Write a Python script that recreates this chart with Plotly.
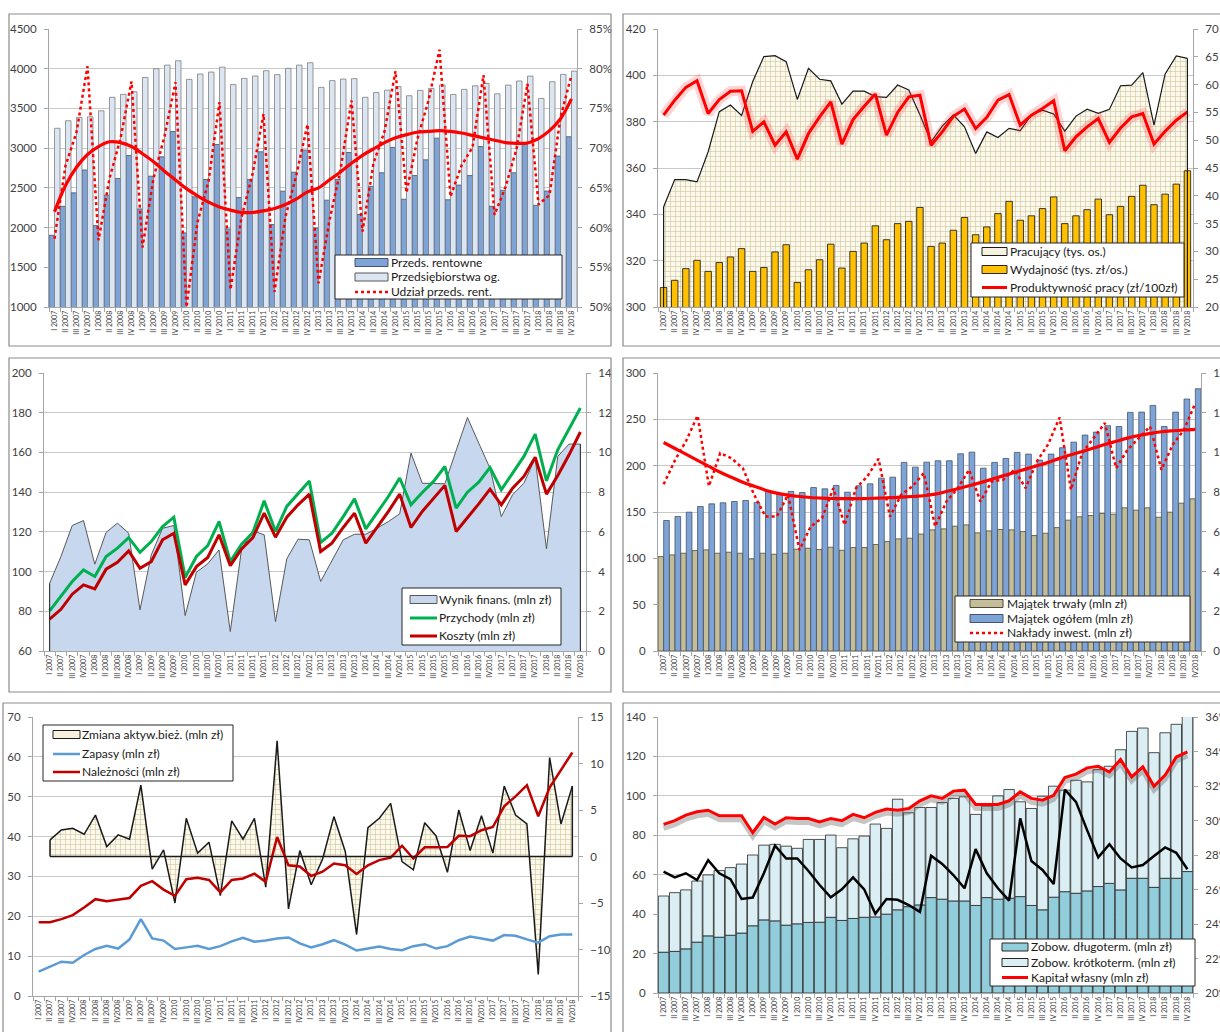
import plotly.graph_objects as go

W, H = 1220, 1032
FONT = "Lato, 'Liberation Sans', Arial, sans-serif"
TXT = "#404040"
AX = "#A6A6A6"
GRID = "#C9C9C9"

# quarter labels
KW = [f"{q} {r}" for r in range(2007, 2019) for q in ("I", "II", "III", "IV")]
KW_B = [f"{q}{'' if q == 'IV' else ' '}{r}" for r in range(2007, 2019) for q in ("I", "II", "III", "IV")]

# --- panel 1: enterprises
przeds_rentowne = [1903, 2268, 2437, 2725, 2025, 2408, 2618, 2908, 2235, 2647, 2891, 3210,
                   1933, 2387, 2605, 3046, 1983, 2378, 2605, 2954, 2038, 2458, 2697, 2975,
                   1995, 2345, 2605, 2945, 2165, 2520, 2690, 3010, 2357, 2655, 2853, 3126,
                   2350, 2535, 2655, 3020, 2268, 2470, 2690, 3050, 2280, 2460, 2900, 3143]
przeds_ogolem = [3250, 3345, 3387, 3395, 3470, 3640, 3677, 3710, 3890, 4000, 4045, 4100,
                 3866, 3933, 3958, 4020, 3800, 3878, 3908, 3975, 3925, 4005, 4045, 4075,
                 3765, 3850, 3870, 3875, 3640, 3700, 3730, 3775, 3660, 3727, 3752, 3795,
                 3676, 3740, 3785, 3814, 3684, 3794, 3845, 3907, 3626, 3836, 3929, 3970]
udzial_rent = [58.6, 67.8, 72.0, 80.3, 58.4, 66.2, 71.2, 78.4, 57.5, 66.2, 71.5, 78.3,
               50.0, 60.7, 65.8, 75.8, 52.2, 61.3, 66.7, 74.3, 51.9, 61.4, 66.7, 73.0,
               53.0, 60.9, 67.3, 76.0, 59.5, 68.1, 72.1, 79.7, 64.4, 71.2, 76.0, 82.4,
               63.9, 67.8, 70.1, 79.2, 61.6, 65.1, 69.9, 78.1, 62.9, 64.1, 73.9, 79.2]
udzial_trend = [62.0, 65.3, 67.6, 69.2, 70.2, 70.8, 70.7, 70.2, 69.3, 68.3, 67.1, 66.0,
                64.9, 64.0, 63.2, 62.6, 62.2, 61.9, 61.9, 62.1, 62.4, 62.9, 63.6, 64.5,
                65.0, 66.0, 67.0, 68.1, 69.1, 69.9, 70.7, 71.3, 71.7, 72.0, 72.1, 72.2,
                72.1, 71.9, 71.6, 71.3, 71.0, 70.7, 70.6, 70.65, 71.2, 72.2, 73.7, 76.2]

# --- panel 2: employment and productivity
pracujacy = [343.2, 355.0, 355.0, 354.0, 367.0, 384.3, 387.2, 382.7, 397.3, 408.1, 408.5, 405.9,
             389.6, 403.0, 398.3, 397.6, 387.6, 393.2, 393.2, 390.8, 390.5, 395.8, 393.7, 383.0,
             371.3, 378.1, 382.9, 377.8, 366.3, 375.6, 373.2, 377.1, 376.1, 382.9, 385.0, 383.3,
             375.9, 382.4, 385.4, 383.6, 385.3, 395.5, 395.8, 401.2, 378.5, 400.6, 408.4, 407.3]
wydajnosc = [23.5, 24.8, 26.9, 28.4, 26.4, 28.0, 29.0, 30.5, 26.4, 27.1, 29.9, 31.2,
             24.4, 26.7, 28.5, 31.3, 27.0, 30.0, 31.5, 34.6, 32.1, 35.0, 35.4, 37.9,
             30.9, 31.5, 33.8, 36.1, 33.0, 34.4, 36.8, 39.0, 35.6, 36.4, 37.7, 39.8,
             35.0, 36.4, 37.5, 39.4, 36.6, 38.1, 39.9, 41.9, 38.4, 40.3, 42.1, 44.5]
produktywnosc = [54.5, 57.2, 59.5, 60.7, 54.8, 57.3, 58.8, 58.9, 51.6, 53.3, 49.1, 51.5,
                 46.6, 51.2, 54.2, 56.9, 49.3, 53.7, 56.1, 58.3, 50.9, 55.0, 57.8, 58.1,
                 49.1, 51.5, 54.3, 55.6, 52.1, 54.1, 57.2, 58.2, 52.7, 54.5, 55.7, 57.1,
                 48.1, 50.6, 52.4, 53.9, 49.6, 52.2, 54.2, 54.8, 49.3, 51.6, 53.6, 55.1]

# --- panel 3: revenues, costs, financial result
wynik_finans = [3.41, 4.76, 6.32, 6.57, 4.37, 5.97, 6.44, 5.93, 2.07, 4.84, 6.18, 6.32,
                1.78, 3.97, 4.39, 5.09, 0.98, 5.14, 6.05, 5.85, 1.48, 4.64, 5.63, 5.60,
                3.50, 4.54, 5.60, 5.88, 5.88, 6.18, 6.52, 6.91, 9.97, 8.45, 8.45, 8.42,
                10.1, 11.76, 10.47, 9.2, 6.77, 7.87, 8.45, 9.7, 5.14, 9.8, 10.42, 10.42]
przychody = [80.2, 87.4, 95.0, 100.8, 97.5, 107.6, 111.8, 117.1, 109.7, 115.1, 122.7, 127.4,
             97.0, 107.6, 113.1, 125.2, 105.0, 113.8, 119.7, 135.6, 120.2, 132.8, 139.0, 145.6,
             114.6, 119.3, 127.7, 136.6, 121.5, 129.4, 137.8, 147.1, 133.6, 139.8, 145.4, 152.9,
             131.9, 140.0, 145.0, 152.4, 141.2, 149.6, 158.0, 169.2, 145.7, 161.3, 171.9, 182.4]
koszty = [76.1, 81.0, 88.6, 93.3, 91.3, 101.2, 104.7, 110.4, 101.7, 105.0, 116.0, 119.3,
          93.3, 102.5, 107.1, 118.5, 103.0, 111.4, 117.1, 129.4, 117.3, 127.4, 133.6, 139.0,
          110.1, 114.3, 122.2, 129.4, 114.3, 122.2, 130.3, 139.0, 122.2, 130.3, 136.6, 143.4,
          120.2, 126.9, 134.1, 141.5, 133.6, 142.0, 147.9, 157.6, 139.0, 148.4, 158.8, 170.3]

# --- panel 4: assets and investment
majatek_trwaly = [101.9, 103.7, 105.5, 108.4, 109.1, 105.5, 106.6, 105.5, 99.4, 105.5, 104.4, 105.5,
                  109.8, 110.9, 109.5, 112.0, 108.7, 111.6, 111.6, 114.9, 118.1, 121.0, 121.7, 126.2,
                  130.7, 131.8, 134.7, 136.1, 127.5, 129.6, 131.1, 130.7, 128.9, 124.6, 127.1, 133.2,
                  141.2, 144.8, 146.2, 148.4, 147.6, 154.5, 152.0, 154.5, 144.4, 149.8, 159.5, 164.2]
majatek_ogolem = [140.8, 145.1, 149.8, 155.9, 158.8, 159.9, 161.3, 162.4, 160.2, 172.8, 170.0, 172.1,
                  171.0, 176.4, 175.0, 178.6, 171.4, 178.3, 180.4, 186.5, 187.6, 203.5, 198.4, 203.8,
                  205.3, 205.3, 212.8, 214.6, 197.3, 203.5, 207.8, 214.3, 212.5, 206.0, 212.5, 219.3,
                  225.4, 233.0, 236.2, 243.1, 242.3, 257.5, 257.8, 265.0, 242.3, 257.8, 271.9, 283.0]
naklady = [8.4, 9.6, 10.6, 11.85, 8.3, 9.97, 9.7, 9.2, 7.87, 6.77, 6.77, 7.87,
           5.09, 6.27, 6.69, 8.2, 6.35, 8.2, 8.79, 9.68, 6.77, 7.87, 8.3, 8.96,
           6.27, 7.53, 8.2, 9.13, 7.53, 8.54, 8.62, 9.13, 8.2, 9.55, 10.42, 11.76,
           8.12, 9.97, 10.72, 11.48, 9.21, 10.13, 10.72, 11.31, 9.13, 10.39, 11.14, 12.49]
naklady_trend = [10.5, 10.2, 9.9, 9.6, 9.3, 9.0, 8.75, 8.5, 8.3, 8.1, 7.95, 7.85,
                 7.78, 7.73, 7.7, 7.68, 7.67, 7.67, 7.68, 7.7, 7.72, 7.75, 7.78, 7.82,
                 7.9, 8.03, 8.17, 8.32, 8.48, 8.65, 8.82, 8.99, 9.16, 9.33, 9.5, 9.7,
                 9.88, 10.05, 10.22, 10.4, 10.56, 10.72, 10.85, 10.96, 11.04, 11.09, 11.13, 11.16]

# --- panel 5: current assets
zmiana_aktyw = [None, 1.79, 2.86, 3.04, 2.39, 4.46, 1.07, 2.32, 1.86, 7.68, -1.36, 0.71,
                -5.0, 4.11, 0.36, 1.54, -4.21, 3.82, 1.86, 4.11, -3.29, 12.43, -5.64, 0.64,
                -3.04, -0.3, 4.29, 0.54, -8.39, 3.1, 4.11, 5.71, -0.54, -1.43, 3.64, 2.21,
                -1.71, 5.0, 0.64, 4.39, 0.36, 7.57, 4.46, 3.5, -12.68, 10.64, 3.5, 7.57]
zapasy = [6.1, 7.35, 8.6, 8.35, 10.3, 11.8, 12.6, 11.9, 14.2, 19.3, 14.45, 13.9,
          11.8, 12.2, 12.6, 11.8, 12.5, 13.7, 14.6, 13.6, 13.9, 14.45, 14.7, 13.2,
          12.2, 13.0, 14.0, 12.9, 11.4, 11.9, 12.4, 11.8, 11.5, 12.5, 13.0, 11.9,
          12.5, 14.0, 14.9, 14.45, 13.9, 15.3, 15.1, 14.2, 13.4, 15.0, 15.45, 15.45]
naleznosci = [18.5, 18.5, 19.3, 20.3, 22.2, 24.3, 23.8, 24.2, 24.6, 27.65, 28.8, 26.7,
              25.1, 29.3, 29.65, 29.1, 26.0, 29.1, 29.5, 30.7, 28.65, 39.9, 32.8, 32.5,
              30.1, 31.2, 33.25, 32.8, 30.6, 32.8, 34.1, 34.7, 37.7, 34.5, 37.3, 37.3,
              37.4, 40.2, 40.1, 41.6, 42.4, 47.6, 50.1, 52.9, 45.1, 52.3, 56.6, 61.1]

# --- panel 6: liabilities and equity
zobow_dlugo = [20.7, 21.1, 22.4, 25.8, 29.0, 28.3, 29.3, 30.4, 34.1, 37.1, 36.6, 34.4,
               35.1, 35.8, 35.9, 38.4, 36.8, 37.8, 38.4, 38.6, 40.0, 42.2, 43.8, 44.7,
               48.4, 47.6, 46.7, 46.7, 44.4, 48.4, 47.6, 48.1, 48.9, 44.4, 42.2, 48.6,
               51.4, 50.6, 51.8, 54.0, 55.6, 52.3, 58.2, 58.2, 53.6, 58.2, 58.2, 61.6]
zobow_krotko = [28.5, 29.8, 29.9, 31.0, 30.9, 33.8, 34.3, 35.0, 35.9, 37.9, 38.8, 40.1,
                38.3, 42.1, 42.0, 41.7, 36.9, 40.4, 41.2, 47.1, 43.5, 56.1, 47.6, 49.4,
                45.7, 49.0, 52.0, 52.8, 46.2, 46.4, 52.4, 55.1, 48.1, 49.2, 57.6, 56.3,
                51.5, 57.3, 55.3, 59.3, 59.4, 71.1, 74.5, 76.2, 68.3, 73.8, 78.1, 80.4]
kapital_wlasny = [85.5, 87.4, 90.2, 91.9, 92.7, 89.9, 89.9, 89.9, 81.3, 89.0, 85.7, 88.9,
                  88.5, 88.5, 86.8, 88.5, 87.4, 90.6, 88.9, 91.6, 93.3, 92.7, 93.6, 97.5,
                  100.0, 98.7, 102.4, 102.9, 95.6, 95.6, 95.6, 97.5, 102.0, 98.7, 97.8, 100.3,
                  109.3, 111.0, 114.2, 115.0, 112.1, 118.4, 109.6, 114.7, 104.9, 110.5, 119.7, 122.3]
wskaznik_proc = [27.03, 26.7, 26.94, 26.55, 27.7, 26.94, 26.6, 25.45, 25.53, 26.94, 28.54, 27.8,
                 27.8, 27.07, 26.26, 25.55, 26.01, 26.7, 26.01, 24.59, 25.45, 25.4, 25.1, 24.7,
                 27.96, 27.48, 26.84, 26.07, 28.34, 26.94, 26.07, 25.36, 30.12, 27.65, 27.13, 26.32,
                 31.79, 31.08, 29.44, 27.86, 28.63, 27.8, 27.28, 27.42, 27.94, 28.44, 28.13, 27.17]


def fx(p):
    return p / W


def fy(p):
    return 1 - p / H


# plot areas in pixels: left, top, right, bottom
AREA = {1: (49, 29, 577, 307), 2: (658, 29, 1193, 307), 3: (44, 373, 586, 651),
        4: (658, 373, 1201, 651), 5: (33, 717, 578, 996), 6: (658, 717, 1193, 993)}


def x_axis(n, anchor, labels):
    l, t, r, b = AREA[n]
    return dict(domain=[fx(l), fx(r)], anchor=anchor, type="category",
                categoryorder="array", categoryarray=labels,
                range=[-0.5, len(labels) - 0.5], dtick=1, tickangle=-90,
                tickfont=dict(family=FONT, size=7, color=TXT),
                ticks="outside", tickson="boundaries", ticklen=4, tickcolor=AX,
                showline=True, linecolor=AX, linewidth=1, showgrid=False,
                zeroline=False, automargin=False, fixedrange=True)


def y_axis(n, anchor, side, rng, dtick, grid, overlaying=None, suffix=""):
    l, t, r, b = AREA[n]
    d = dict(anchor=anchor, side=side, range=rng, dtick=dtick, tick0=rng[0],
             showgrid=grid, gridcolor=GRID, gridwidth=1, showline=True,
             linecolor=AX, linewidth=1, ticks="outside", ticklen=4, tickcolor=AX,
             tickfont=dict(family=FONT, size=11.5, color=TXT), ticksuffix=suffix,
             zeroline=False, automargin=False, fixedrange=True, ticklabelstandoff=5)
    if overlaying:
        d["overlaying"] = overlaying
    else:
        d["domain"] = [fy(b), fy(t)]
    return d


fig = go.Figure()

# ---------------- panel 1
fig.add_trace(go.Bar(x=KW, y=przeds_rentowne, xaxis="x", yaxis="y", offset=-0.5, width=0.5,
                     marker=dict(color="#7EA3D6", line=dict(color="#44546A", width=0.8))))
fig.add_trace(go.Bar(x=KW, y=przeds_ogolem, xaxis="x", yaxis="y", offset=0.0, width=0.5,
                     marker=dict(color="#DCE6F2", line=dict(color="#7F7F7F", width=0.8))))
fig.add_trace(go.Scatter(x=KW, y=udzial_rent, xaxis="x", yaxis="y2", mode="lines",
                         line=dict(color="#FF0000", width=2.5, dash="dot")))
fig.add_trace(go.Scatter(x=KW, y=udzial_trend, xaxis="x", yaxis="y2", mode="lines",
                         line=dict(color="#FF0000", width=3.2, shape="spline")))

# ---------------- panel 2
fig.add_trace(go.Scatter(x=KW, y=pracujacy, xaxis="x2", yaxis="y3", mode="lines",
                         line=dict(color="#1A1A1A", width=1.2), fill="tozeroy",
                         fillpattern=dict(shape="+", bgcolor="#FBF8EC", fgcolor="#CDBF95",
                                          size=5, solidity=0.2)))
fig.add_trace(go.Bar(x=KW, y=wydajnosc, xaxis="x2", yaxis="y4", width=0.58,
                     marker=dict(color="#FFC000", line=dict(color="#262626", width=0.9))))
fig.add_trace(go.Scatter(x=KW, y=produktywnosc, xaxis="x2", yaxis="y4", mode="lines",
                         line=dict(color="rgba(255,60,60,0.22)", width=10)))
fig.add_trace(go.Scatter(x=KW, y=produktywnosc, xaxis="x2", yaxis="y4", mode="lines",
                         line=dict(color="#FF0000", width=3)))

# ---------------- panel 3
fig.add_trace(go.Scatter(x=KW_B, y=wynik_finans, xaxis="x3", yaxis="y5", mode="lines",
                         line=dict(color="#595959", width=1), fill="tozeroy",
                         fillcolor="#C6D7EE"))
fig.add_trace(go.Scatter(x=KW_B, y=przychody, xaxis="x3", yaxis="y6", mode="lines",
                         line=dict(color="#00B050", width=3)))
fig.add_trace(go.Scatter(x=KW_B, y=koszty, xaxis="x3", yaxis="y6", mode="lines",
                         line=dict(color="#C00000", width=3)))

# ---------------- panel 4
fig.add_trace(go.Bar(x=KW_B, y=majatek_trwaly, xaxis="x4", yaxis="y7", offset=-0.5, width=0.5,
                     marker=dict(color="#C4BD97", line=dict(color="#4D4A3A", width=0.8))))
fig.add_trace(go.Bar(x=KW_B, y=majatek_ogolem, xaxis="x4", yaxis="y7", offset=0.0, width=0.5,
                     marker=dict(color="#7EA3D6", line=dict(color="#44546A", width=0.8))))
fig.add_trace(go.Scatter(x=KW_B, y=naklady, xaxis="x4", yaxis="y8", mode="lines",
                         line=dict(color="#FF0000", width=2.5, dash="dot")))
fig.add_trace(go.Scatter(x=KW_B, y=naklady_trend, xaxis="x4", yaxis="y8", mode="lines",
                         line=dict(color="#FF0000", width=3.2, shape="spline")))

# ---------------- panel 5
fig.add_trace(go.Scatter(x=KW_B, y=zmiana_aktyw, xaxis="x5", yaxis="y9", mode="lines",
                         line=dict(color="#1A1A1A", width=1.5), fill="tozeroy",
                         fillpattern=dict(shape="+", bgcolor="#FBF8EC", fgcolor="#CDBF95",
                                          size=5, solidity=0.2)))
fig.add_trace(go.Scatter(x=KW_B, y=zapasy, xaxis="x5", yaxis="y10", mode="lines",
                         line=dict(color="#5B9BD5", width=2.5)))
fig.add_trace(go.Scatter(x=KW_B, y=naleznosci, xaxis="x5", yaxis="y10", mode="lines",
                         line=dict(color="#C00000", width=2.5)))

# ---------------- panel 6
fig.add_trace(go.Bar(x=KW, y=zobow_dlugo, xaxis="x6", yaxis="y11", width=0.94,
                     marker=dict(color="#92CDDC", line=dict(color="#262626", width=0.8))))
fig.add_trace(go.Bar(x=KW, y=zobow_krotko, base=zobow_dlugo, xaxis="x6", yaxis="y11", width=0.94,
                     marker=dict(color="#DAEEF3", line=dict(color="#262626", width=0.8))))
fig.add_trace(go.Scatter(x=KW, y=wskaznik_proc, xaxis="x6", yaxis="y12", mode="lines",
                         line=dict(color="#000000", width=2.5)))
fig.add_trace(go.Scatter(x=KW, y=kapital_wlasny, xaxis="x6", yaxis="y13", mode="lines",
                         line=dict(color="rgba(90,90,90,0.35)", width=5)))
fig.add_trace(go.Scatter(x=KW, y=kapital_wlasny, xaxis="x6", yaxis="y14", mode="lines",
                         line=dict(color="#FF0000", width=3)))

lay = dict(
    xaxis=x_axis(1, "y", KW),
    yaxis=y_axis(1, "x", "left", [1000, 4500], 500, True),
    yaxis2=y_axis(1, "x", "right", [50, 85], 5, False, overlaying="y", suffix="%"),
    xaxis2=x_axis(2, "y3", KW),
    yaxis3=y_axis(2, "x2", "left", [300, 420], 20, True),
    yaxis4=y_axis(2, "x2", "right", [20, 70], 5, False, overlaying="y3"),
    xaxis3=x_axis(3, "y5", KW_B),
    yaxis5=y_axis(3, "x3", "right", [0, 14], 2, False),
    yaxis6=y_axis(3, "x3", "left", [60, 200], 20, True, overlaying="y5"),
    xaxis4=x_axis(4, "y7", KW_B),
    yaxis7=y_axis(4, "x4", "left", [0, 300], 50, True),
    yaxis8=y_axis(4, "x4", "right", [0, 14], 2, False, overlaying="y7"),
    xaxis5=x_axis(5, "y9", KW_B),
    yaxis9=y_axis(5, "x5", "right", [-15, 15], 5, False),
    yaxis10=y_axis(5, "x5", "left", [0, 70], 10, True, overlaying="y9"),
    xaxis6=x_axis(6, "y11", KW),
    yaxis11=y_axis(6, "x6", "left", [0, 140], 20, True),
    yaxis12=y_axis(6, "x6", "right", [20, 36], 2, False, overlaying="y11", suffix="%"),
    yaxis13=dict(overlaying="y11", anchor="x6", range=[2, 142], visible=False, fixedrange=True),
    yaxis14=dict(overlaying="y11", anchor="x6", range=[0, 140], visible=False, fixedrange=True),
)

shapes = []
annotations = []


def frame(x0, y0, x1, y1, color="#8C8C8C", width=1.2, fill=None):
    shapes.append(dict(type="rect", xref="paper", yref="paper", x0=fx(x0), x1=fx(x1),
                       y0=fy(y1), y1=fy(y0), line=dict(color=color, width=width),
                       fillcolor=fill if fill else "rgba(0,0,0,0)", layer="above"))


def leg_rect(x0, x1, yc, fill, line="#262626", h=8):
    shapes.append(dict(type="rect", xref="paper", yref="paper", x0=fx(x0), x1=fx(x1),
                       y0=fy(yc + h / 2), y1=fy(yc - h / 2), fillcolor=fill,
                       line=dict(color=line, width=1), layer="above"))


def leg_line(x0, x1, yc, color, width, dash="solid"):
    shapes.append(dict(type="line", xref="paper", yref="paper", x0=fx(x0), x1=fx(x1),
                       y0=fy(yc), y1=fy(yc), line=dict(color=color, width=width, dash=dash),
                       layer="above"))


def leg_text(x, yc, s):
    annotations.append(dict(xref="paper", yref="paper", x=fx(x), y=fy(yc - 0.5), text=s,
                            showarrow=False, xanchor="left", yanchor="middle",
                            borderpad=0,
                            font=dict(family=FONT, size=12, color="#1A1A1A")))


def edge(xref, yref, i, y0, y1, width=1.2):
    shapes.append(dict(type="line", xref=xref, yref=yref, x0=i, x1=i, y0=y0, y1=y1,
                       line=dict(color="#1A1A1A", width=width), layer="above"))


# chart area frames
frame(9, 14, 611, 346)
frame(623, 14, 1232, 346)
frame(9, 358, 611, 692)
frame(623, 358, 1232, 692)
frame(3, 703, 611, 1040)
frame(623, 703, 1232, 1040)

# area outlines at the ends of the series
n = len(KW)
edge("x2", "y3", 0, 300, pracujacy[0])
edge("x2", "y3", n - 1, 300, pracujacy[-1])
edge("x3", "y5", 0, 0, wynik_finans[0], 1)
edge("x3", "y5", n - 1, 0, wynik_finans[-1], 1)
first = next(i for i, v in enumerate(zmiana_aktyw) if v is not None)
edge("x5", "y9", first, 0, zmiana_aktyw[first], 1.5)
edge("x5", "y9", n - 1, 0, zmiana_aktyw[-1], 1.5)
shapes.append(dict(type="line", xref="x5", yref="y9", x0=first, x1=n - 1, y0=0, y1=0,
                   line=dict(color="#1A1A1A", width=1.5), layer="above"))

# legends
frame(335, 255, 562, 299, color="#262626", width=1, fill="#FFFFFF")
leg_rect(355, 388, 262.5, "#7EA3D6", "#44546A")
leg_text(390, 262.5, "Przeds. rentowne")
leg_rect(355, 388, 277, "#DCE6F2", "#595959")
leg_text(390, 277, "Przedsiębiorstwa og.")
leg_line(355, 388, 292, "#FF0000", 2.5, "dot")
leg_text(390, 292, "Udział przeds. rent.")

frame(971, 243, 1184, 297, color="#262626", width=1, fill="#FFFFFF")
leg_rect(982, 1007, 251.5, "#F7F2E0", "#1A1A1A")
leg_text(1009, 251.5, "Pracujący (tys. os.)")
leg_rect(982, 1007, 269.5, "#FFC000", "#262626")
leg_text(1009, 269.5, "Wydajność (tys. zł/os.)")
leg_line(982, 1007, 287.5, "#FF0000", 3)
leg_text(1009, 287.5, "Produktywność pracy (zł/100zł)")

frame(402, 588, 561, 645, color="#262626", width=1, fill="#FFFFFF")
leg_rect(410, 437, 599.5, "#C6D7EE", "#595959")
leg_text(438, 599.5, "Wynik finans. (mln zł)")
leg_line(410, 437, 618, "#00B050", 3)
leg_text(438, 618, "Przychody (mln zł)")
leg_line(410, 437, 636, "#C00000", 3)
leg_text(438, 636, "Koszty (mln zł)")

frame(955, 596, 1190, 642, color="#262626", width=1, fill="#FFFFFF")
leg_rect(970, 1003, 603.5, "#C4BD97", "#4D4A3A")
leg_text(1006, 603.5, "Majątek trwały (mln zł)")
leg_rect(970, 1003, 618.5, "#7EA3D6", "#44546A")
leg_text(1006, 618.5, "Majątek ogółem (mln zł)")
leg_line(970, 1003, 633, "#FF0000", 2.5, "dot")
leg_text(1006, 633, "Nakłady inwest. (mln zł)")

frame(43, 725, 233, 781, color="#262626", width=1, fill="#FFFFFF")
leg_rect(53, 80, 734.5, "#F7F2E0", "#1A1A1A")
leg_text(81, 734.5, "Zmiana aktyw.bież. (mln zł)")
leg_line(53, 80, 754, "#5B9BD5", 2.5)
leg_text(81, 754, "Zapasy (mln zł)")
leg_line(53, 80, 772, "#C00000", 2.5)
leg_text(81, 772, "Należności (mln zł)")

frame(990, 939, 1195, 986, color="#262626", width=1, fill="#FFFFFF")
leg_rect(1002, 1028, 947, "#92CDDC", "#262626")
leg_text(1030, 947, "Zobow. długoterm. (mln zł)")
leg_rect(1002, 1028, 962.5, "#DAEEF3", "#262626")
leg_text(1030, 962.5, "Zobow. krótkoterm. (mln zł)")
leg_line(1002, 1028, 977.5, "#FF0000", 3)
leg_text(1030, 977.5, "Kapitał własny (mln zł)")

fig.update_layout(
    **lay,
    template="none",
    width=W, height=H,
    margin=dict(l=0, r=0, t=0, b=0, pad=0),
    paper_bgcolor="#FFFFFF", plot_bgcolor="#FFFFFF",
    barmode="overlay", showlegend=False,
    font=dict(family=FONT, size=11, color=TXT),
    shapes=shapes, annotations=annotations,
)

fig.write_html("out.html", config={"displayModeBar": False})
